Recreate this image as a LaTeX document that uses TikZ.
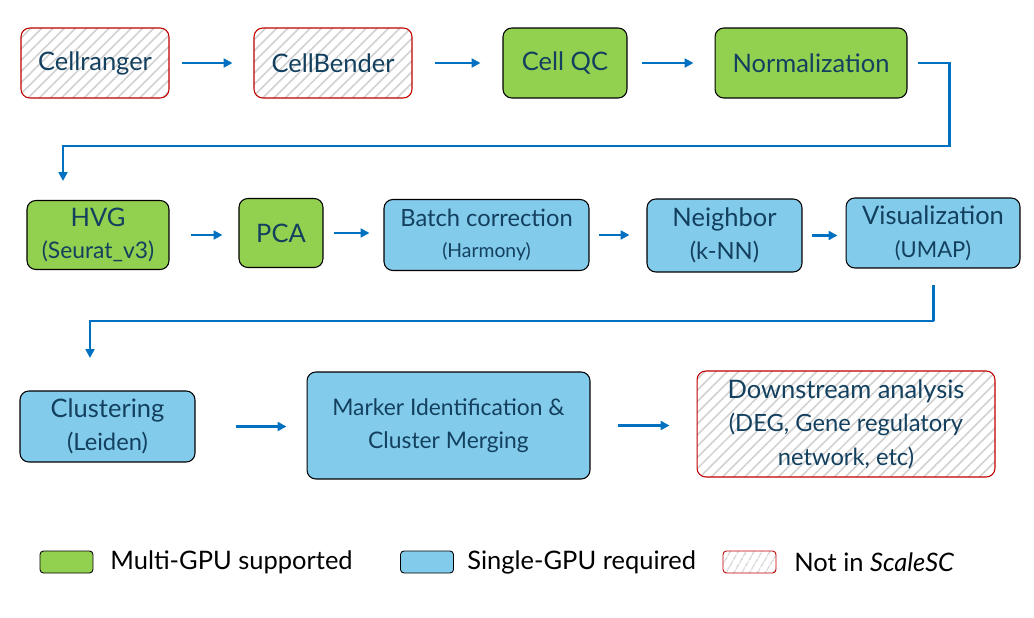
\documentclass[tikz,border=0pt]{standalone}
\usepackage{fontspec}
\setmainfont{Lato}
\usetikzlibrary{arrows.meta,patterns.meta}
\definecolor{gpugreen}{HTML}{92D050}
\definecolor{gpublue}{HTML}{83CBEB}
\definecolor{flowblue}{HTML}{0070C0}
\definecolor{notred}{HTML}{C00000}
\definecolor{stagetext}{HTML}{13405E}
\newcommand{\ptsize}[2]{\fontsize{#1}{#2}\selectfont}

\tikzset{
  stage/.style={draw, rounded corners=5pt, line width=0.6pt, align=center,
    text=stagetext, font=\ptsize{14.5}{17}, inner sep=0pt},
  multi/.style={stage, fill=gpugreen},
  single/.style={stage, fill=gpublue},
  external/.style={stage, draw=notred,
    pattern={Lines[angle=45,distance=4.5pt,line width=0.9pt]}, pattern color=black!18},
  link/.style={flowblue, line width=1.7pt, -{Triangle[length=5pt,width=5pt]}},
  keybox/.style={draw, rounded corners=2pt, line width=0.5pt, minimum width=1.06cm, minimum height=0.44cm},
  keytext/.style={anchor=west, font=\ptsize{14.5}{17}, inner sep=0pt},
}

\begin{document}
\begin{tikzpicture}[x=0.02cm,y=-0.02cm]
    \useasboundingbox (0,0) rectangle (1034,618);

    % first row
    \node[external, minimum width=2.96cm, minimum height=1.4cm] (cellranger) at (95,63) {Cellranger};
    \node[external, minimum width=3.16cm, minimum height=1.4cm] (cellbender) at (333,63) {CellBender};
    \node[multi, minimum width=2.48cm, minimum height=1.4cm] (cellqc) at (565,63) {Cell QC};
    \node[multi, minimum width=3.84cm, minimum height=1.4cm] (norm) at (811,63) {Normalization};

    % second row
    \node[multi, minimum width=2.84cm, minimum height=1.38cm] (hvg) at (98,235)
        {HVG\\[1pt]{\ptsize{13}{15}(Seurat\_v3)}};
    \node[multi, minimum width=1.68cm, minimum height=1.38cm] (pca) at (281,233) {PCA};
    \node[single, minimum width=4.1cm, minimum height=1.42cm] (batch) at (486.5,235)
        {{\ptsize{13.5}{15}Batch correction}\\[1pt]{\ptsize{11}{13}(Harmony)}};
    \node[single, minimum width=3.1cm, minimum height=1.46cm] (neighbor) at (724.5,235.5)
        {Neighbor\\[2pt]{\ptsize{13.5}{15}(k-NN)}};
    \node[single, minimum width=3.48cm, minimum height=1.4cm] (vis) at (933,233)
        {Visualization\\[2pt]{\ptsize{12.5}{15}(UMAP)}};

    % third row
    \node[single, minimum width=3.5cm, minimum height=1.42cm] (clust) at (107.5,426.5)
        {Clustering\\[2pt]{\ptsize{13.5}{15}(Leiden)}};
    \node[single, minimum width=5.66cm, minimum height=2.14cm, font=\ptsize{13}{17}] (marker) at (448.5,425.5)
        {Marker Identification \&\\[2pt]Cluster Merging};
    \node[external, minimum width=5.96cm, minimum height=2.12cm, font=\ptsize{14.5}{16}] (down) at (846,424)
        {Downstream analysis\\[3pt]{\ptsize{13.5}{16}(DEG, Gene regulatory}\\[3pt]{\ptsize{13.5}{16}network, etc)}};

    % turn points of the long connectors
    \coordinate (bendA) at (949,146);
    \coordinate (hvgIn) at (63,181);
    \coordinate (bendB) at (934,321);
    \coordinate (clustIn) at (90,358);

    \draw[link, shorten <=0.24cm, shorten >=0.42cm] (cellranger) -- (cellbender);
    \draw[link, shorten <=0.44cm, shorten >=0.44cm] (cellbender) -- (cellqc);
    \draw[link, shorten <=0.28cm, shorten >=0.42cm] (cellqc) -- (norm);
    \draw[link, shorten <=0.2cm] (norm.east) -| (bendA) -| (hvgIn);% back to the start of row two

    \draw[link, shorten <=0.42cm, shorten >=0.32cm] (hvg.east) -- (hvg.east -| pca.west);
    \draw[link, shorten <=0.2cm, shorten >=0.28cm] (pca.east) -- (pca.east -| batch.west);
    \draw[link, shorten <=0.18cm, shorten >=0.34cm] (batch) -- (batch -| neighbor.west);
    \draw[link, shorten <=0.18cm, shorten >=0.16cm] (neighbor) -- (neighbor -| vis.west);
    \draw[link, shorten <=0.32cm] (vis.south) |- (bendB) -| (clustIn);% back to the start of row three

    \draw[link, shorten <=0.8cm, shorten >=0.4cm] (clust) -- (clust -| marker.west);
    \draw[link, shorten <=0.54cm, shorten >=0.54cm] (marker) -- (marker -| down.west);

    % legend
    \node[keybox, fill=gpugreen] (keymulti) at (66.5,562) {};
    \node[keytext] (keymultitext) at (110,562) {Multi-GPU supported};
    \node[keybox, fill=gpublue] (keysingle) at (427,562) {};
    \node[keytext] (keysingletext) at (467,562) {Single-GPU required};
    \node[keybox, draw=notred, pattern={Lines[angle=60,distance=4pt,line width=0.8pt]},
          pattern color=black!18] (keynot) at (749.5,562) {};
    \node[keytext] (keynottext) at (794,562) {Not in \textit{ScaleSC}};
\end{tikzpicture}
\end{document}
